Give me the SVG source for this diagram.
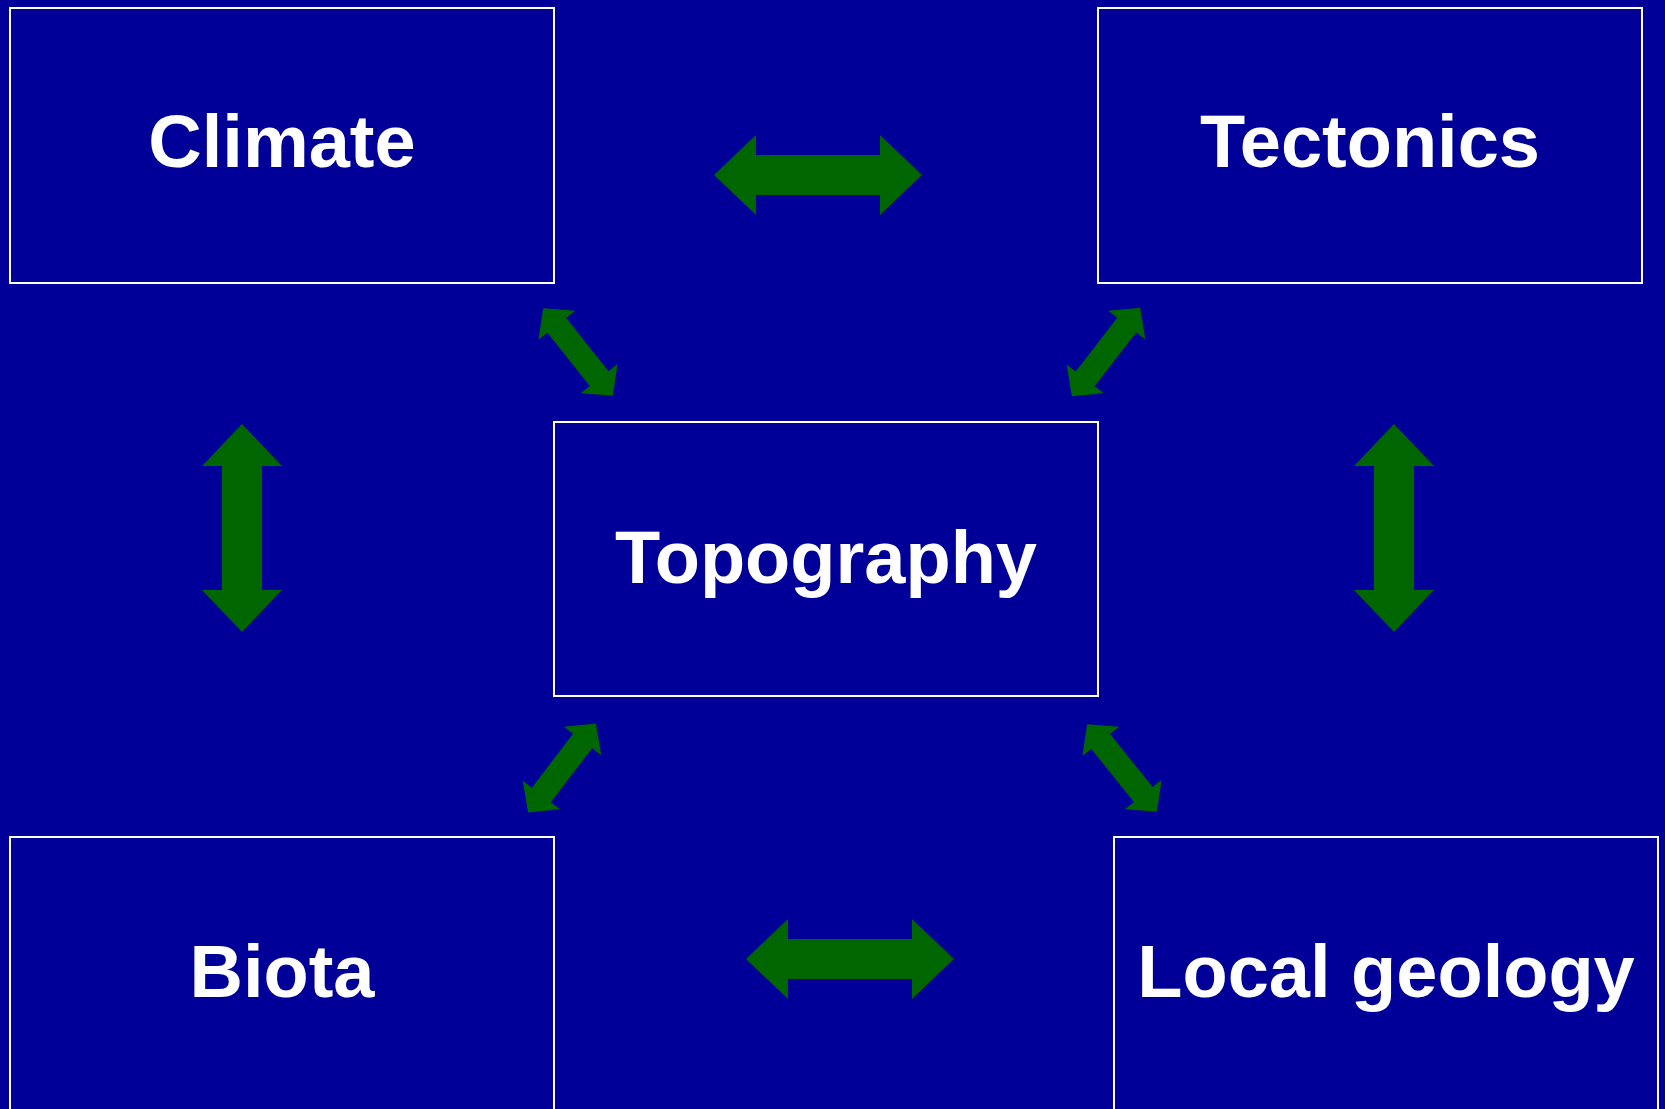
<svg xmlns="http://www.w3.org/2000/svg" width="1665" height="1109" viewBox="0 0 1665 1109">
<defs>
<style>
.box{fill:#000099;stroke:#ffffff;stroke-width:2}
.lbl{font-family:"Liberation Sans",Arial,sans-serif;font-weight:bold;font-size:74px;fill:#ffffff;text-anchor:middle}
.arr{fill:#006600}
</style>
<path id="big" d="M-104,0 L-62,-40 L-62,-20 L62,-20 L62,-40 L104,0 L62,40 L62,20 L-62,20 L-62,40 Z"/>
<path id="small" d="M-56,0 L-34,-23.5 L-34,-12 L34,-12 L34,-23.5 L56,0 L34,23.5 L34,12 L-34,12 L-34,23.5 Z"/>
</defs>
<rect x="0" y="0" width="1665" height="1109" fill="#000099"/>
<g id="climate"><rect class="box" x="10" y="8" width="544" height="275"/><text class="lbl" x="282" y="167">Climate</text></g>
<g id="tectonics"><rect class="box" x="1098" y="8" width="544" height="275"/><text class="lbl" x="1370" y="167">Tectonics</text></g>
<g id="topography"><rect class="box" x="554" y="422" width="544" height="274"/><text class="lbl" x="826" y="583">Topography</text></g>
<g id="biota"><rect class="box" x="10" y="837" width="544" height="275"/><text class="lbl" x="282" y="997">Biota</text></g>
<g id="local-geology"><rect class="box" x="1114" y="837" width="544" height="275"/><text class="lbl" x="1386" y="997">Local geology</text></g>
<g id="connectors" class="arr">
<use href="#big" transform="translate(818,175)"/>
<use href="#big" transform="translate(850,959)"/>
<use href="#big" transform="translate(242,528) rotate(90)"/>
<use href="#big" transform="translate(1394,528) rotate(90)"/>
<use href="#small" transform="translate(578,352) rotate(51.5)"/>
<use href="#small" transform="translate(1106,352) rotate(-52.4)"/>
<use href="#small" transform="translate(562,768) rotate(-52.7)"/>
<use href="#small" transform="translate(1122,768) rotate(51.4)"/>
</g>
</svg>
